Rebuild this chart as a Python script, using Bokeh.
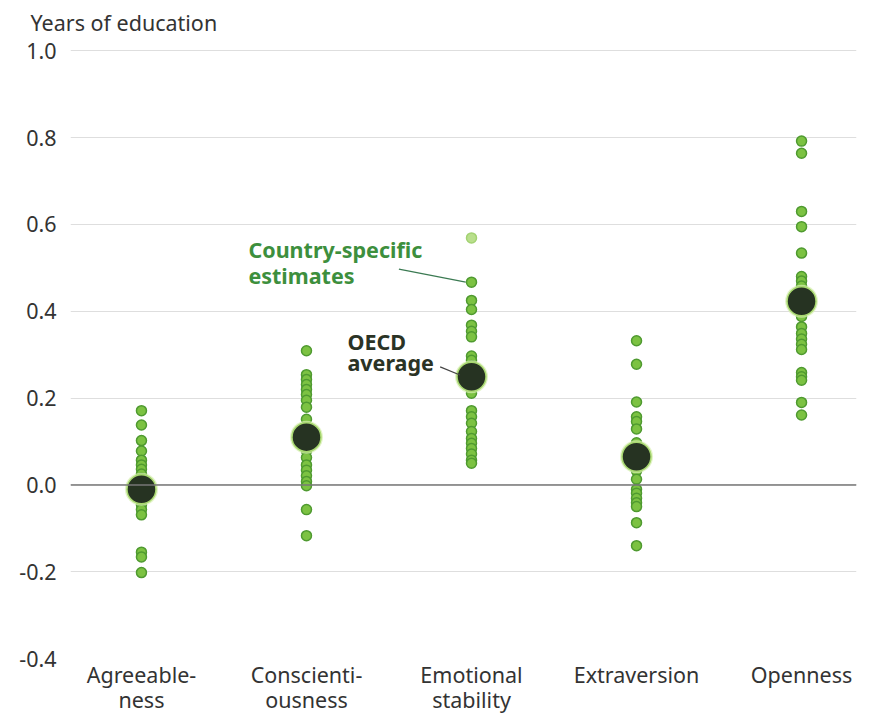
from bokeh.plotting import figure
from bokeh.models import FixedTicker, Span
from bokeh.core.properties import value
from bokeh.embed import file_html
from bokeh.resources import INLINE

# ---- data ----
categories = ["Agreeableness", "Conscientiousness", "Emotional stability", "Extraversion", "Openness"]
category_labels = ["Agreeable-\nness", "Conscienti-\nousness", "Emotional\nstability", "Extraversion", "Openness"]
y_axis_title = "Years of education"

agreeableness = [0.171, 0.138, 0.102, 0.078, 0.057, 0.046, 0.036, 0.025, 0.015, 0.005,
                 -0.012, -0.022, -0.035, -0.046, -0.057, -0.069, -0.155, -0.166, -0.202]
conscientiousness = [0.309, 0.254, 0.243, 0.231, 0.220, 0.208, 0.195, 0.179, 0.151, 0.130,
                     0.120, 0.090, 0.078, 0.063, 0.046, 0.034, 0.021, 0.008, -0.002, -0.057, -0.117]
emotional_stability = [0.467, 0.425, 0.404, 0.368, 0.354, 0.341, 0.297, 0.287, 0.275, 0.262,
                       0.235, 0.211, 0.171, 0.157, 0.142, 0.123, 0.107, 0.096, 0.084, 0.071, 0.057, 0.050]
emotional_highlight = [0.569]
extraversion = [0.332, 0.278, 0.191, 0.157, 0.146, 0.129, 0.097, 0.080, 0.050, 0.032,
                0.013, -0.010, -0.019, -0.031, -0.041, -0.050, -0.087, -0.140]
openness = [0.792, 0.764, 0.630, 0.595, 0.534, 0.480, 0.470, 0.458, 0.445, 0.400,
            0.388, 0.364, 0.349, 0.336, 0.324, 0.312, 0.259, 0.249, 0.241, 0.190, 0.161]
oecd_average = [-0.010, 0.110, 0.249, 0.065, 0.423]

y_ticks = [-0.4, -0.2, 0.0, 0.2, 0.4, 0.6, 0.8, 1.0]
y_tick_labels = ["-0.4", "-0.2", "0.0", "0.2", "0.4", "0.6", "0.8", "1.0"]

series = [agreeableness, conscientiousness, emotional_stability, extraversion, openness]

FONT = "Noto Sans"
FS = "21.5px"

p = figure(width=863, height=717, x_range=(-0.43, 4.333), y_range=(-0.40, 1.01),
           output_backend="svg", toolbar_location=None,
           min_border_left=70, min_border_right=7, min_border_top=46, min_border_bottom=58)
p.outline_line_color = None
p.background_fill_color = "white"

p.title.text = y_axis_title
p.title.text_font = FONT
p.title.text_font_size = FS
p.title.text_font_style = "normal"
p.title.text_color = "#333333"
p.title.align = "left"
p.title.vertical_align = "top"
p.title.offset = -40
p.title.standoff = 15

# axes
p.yaxis.ticker = FixedTicker(ticks=y_ticks)
p.yaxis.major_label_overrides = {t: l for t, l in zip(y_ticks, y_tick_labels)}
p.xaxis.ticker = FixedTicker(ticks=list(range(len(categories))))
p.xaxis.major_label_overrides = {i: l for i, l in enumerate(category_labels)}
for ax in (p.xaxis, p.yaxis):
    ax.axis_line_color = None
    ax.major_tick_line_color = None
    ax.minor_tick_line_color = None
    ax.major_label_text_font = FONT
    ax.major_label_text_font_size = FS
    ax.major_label_text_color = "#333333"
p.yaxis.major_label_standoff = 8
p.xaxis.major_label_standoff = -5
p.xaxis.major_label_text_line_height = 0.89

p.xgrid.grid_line_color = None
p.ygrid.grid_line_color = "#dedede"
p.ygrid.grid_line_width = 1

p.add_layout(Span(location=0, dimension="width", line_color="#777777", line_width=1.5))

# country dots
for i, vals in enumerate(series):
    p.scatter([i] * len(vals), vals, size=10, fill_color="#7cc242", line_color="#4f9a30", line_width=1.5)
p.scatter([2] * len(emotional_highlight), emotional_highlight, size=10,
          fill_color="#b9df8c", line_color="#a3d273", line_width=1.5)

# OECD average
xs = list(range(len(categories)))
p.scatter(xs, oecd_average, size=33, fill_color="#d7efb0", fill_alpha=0.7, line_color=None)
p.scatter(xs, oecd_average, size=29, fill_color="#263322", line_color="#a8d870", line_width=1.5)

# annotations
p.segment(x0=[1.56], y0=[0.497], x1=[1.965], y1=[0.467], line_color="#3b7a52", line_width=1.2)
p.segment(x0=[1.81], y0=[0.272], x1=[1.93], y1=[0.253], line_color="#444444", line_width=1.2)
p.text(x=[0.648, 0.648], y=[0.5425, 0.483], text=["Country-specific", "estimates"],
       text_font=value(FONT), text_font_size=FS, text_font_style="bold",
       text_color="#3d8f3d", text_baseline="middle", text_align="left")
p.text(x=[1.248, 1.248], y=[0.331, 0.283], text=["OECD", "average"],
       text_font=value(FONT), text_font_size=FS, text_font_style="bold",
       text_color="#2b3325", text_baseline="middle", text_align="left")

open("out.html", "w").write(file_html(p, INLINE))
